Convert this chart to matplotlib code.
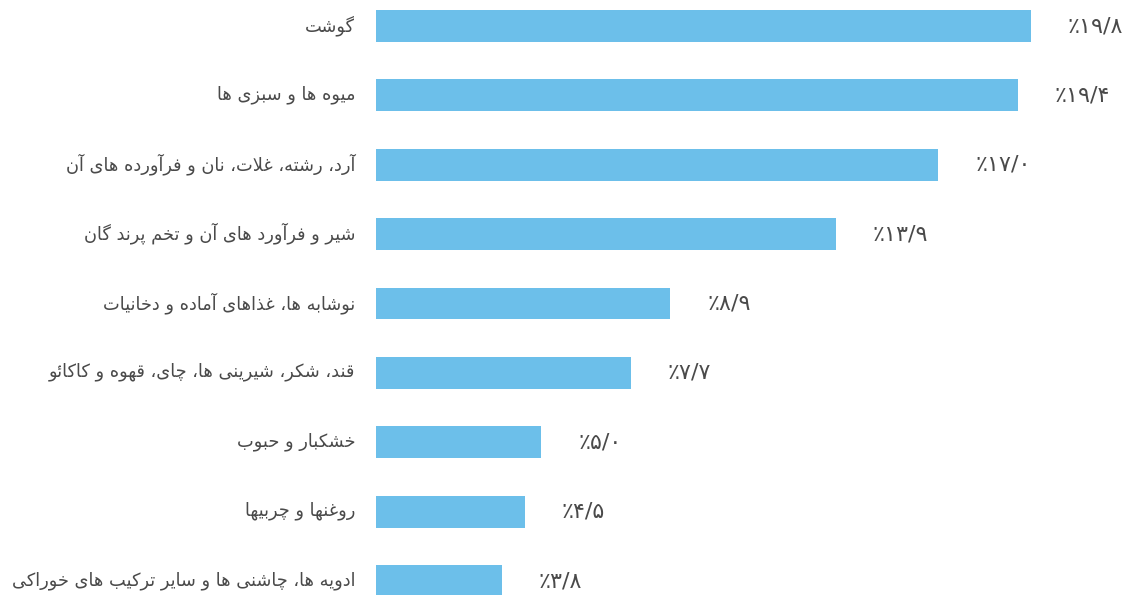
import numpy as np
import matplotlib
matplotlib.use('Agg')
from matplotlib import pyplot as plt
from matplotlib.transforms import ScaledTranslation

categories = [
    'گوشت',
    'میوه ها و سبزی ها',
    'آرد، رشته، غلات، نان و فرآورده های آن',
    'شیر و فرآورد های آن و تخم پرند گان',
    'نوشابه ها، غذاهای آماده و دخانیات',
    'قند، شکر، شیرینی ها، چای، قهوه و کاکائو',
    'خشکبار و حبوب',
    'روغنها و چربیها',
    'ادویه ها، چاشنی ها و سایر ترکیب های خوراکی',
]
values = [19.8, 19.4, 17.0, 13.9, 8.9, 7.7, 5.0, 4.5, 3.8]

# arabic presentation forms: iso, fin, ini, med (None -> right joining only)
forms = {
    'آ': (0xFE81, 0xFE82, None, None),
    'ا': (0xFE8D, 0xFE8E, None, None),
    'ئ': (0xFE89, 0xFE8A, 0xFE8B, 0xFE8C),
    'ب': (0xFE8F, 0xFE90, 0xFE91, 0xFE92),
    'پ': (0xFB56, 0xFB57, 0xFB58, 0xFB59),
    'ت': (0xFE95, 0xFE96, 0xFE97, 0xFE98),
    'ث': (0xFE99, 0xFE9A, 0xFE9B, 0xFE9C),
    'ج': (0xFE9D, 0xFE9E, 0xFE9F, 0xFEA0),
    'چ': (0xFB7A, 0xFB7B, 0xFB7C, 0xFB7D),
    'ح': (0xFEA1, 0xFEA2, 0xFEA3, 0xFEA4),
    'خ': (0xFEA5, 0xFEA6, 0xFEA7, 0xFEA8),
    'د': (0xFEA9, 0xFEAA, None, None),
    'ذ': (0xFEAB, 0xFEAC, None, None),
    'ر': (0xFEAD, 0xFEAE, None, None),
    'ز': (0xFEAF, 0xFEB0, None, None),
    'ژ': (0xFB8A, 0xFB8B, None, None),
    'س': (0xFEB1, 0xFEB2, 0xFEB3, 0xFEB4),
    'ش': (0xFEB5, 0xFEB6, 0xFEB7, 0xFEB8),
    'ص': (0xFEB9, 0xFEBA, 0xFEBB, 0xFEBC),
    'ض': (0xFEBD, 0xFEBE, 0xFEBF, 0xFEC0),
    'ط': (0xFEC1, 0xFEC2, 0xFEC3, 0xFEC4),
    'ظ': (0xFEC5, 0xFEC6, 0xFEC7, 0xFEC8),
    'ع': (0xFEC9, 0xFECA, 0xFECB, 0xFECC),
    'غ': (0xFECD, 0xFECE, 0xFECF, 0xFED0),
    'ف': (0xFED1, 0xFED2, 0xFED3, 0xFED4),
    'ق': (0xFED5, 0xFED6, 0xFED7, 0xFED8),
    'ک': (0xFB8E, 0xFB8F, 0xFB90, 0xFB91),
    'گ': (0xFB92, 0xFB93, 0xFB94, 0xFB95),
    'ل': (0xFEDD, 0xFEDE, 0xFEDF, 0xFEE0),
    'م': (0xFEE1, 0xFEE2, 0xFEE3, 0xFEE4),
    'ن': (0xFEE5, 0xFEE6, 0xFEE7, 0xFEE8),
    'و': (0xFEED, 0xFEEE, None, None),
    'ه': (0xFEE9, 0xFEEA, 0xFEEB, 0xFEEC),
    'ی': (0xFBFC, 0xFBFD, 0xFBFE, 0xFBFF),
}
lam_alef = {'ا': (0xFEFB, 0xFEFC), 'آ': (0xFEF5, 0xFEF6)}


def dual(c):
    return c in forms and forms[c][2] is not None


def shape(text):
    out = []
    i = 0
    n = len(text)
    while i < n:
        c = text[i]
        prev = text[i - 1] if i > 0 else ''
        pj = dual(prev)
        if c == 'ل' and i + 1 < n and text[i + 1] in lam_alef:
            lig = lam_alef[text[i + 1]]
            out.append(chr(lig[1] if pj else lig[0]))
            i += 2
            continue
        if c not in forms:
            out.append(c)
            i += 1
            continue
        iso, fin, ini, med = forms[c]
        nxt = text[i + 1] if i + 1 < n else ''
        nj = ini is not None and nxt in forms
        if pj and nj:
            out.append(chr(med))
        elif pj:
            out.append(chr(fin))
        elif nj:
            out.append(chr(ini))
        else:
            out.append(chr(iso))
        i += 1
    return ''.join(reversed(out))


def fa_pct(v):
    s = '{:.1f}'.format(v).replace('.', '/')
    s = ''.join(chr(0x06F0 + int(ch)) if ch.isdigit() else ch for ch in s)
    return '٪' + s


text_color = '#4a4a4a'
bar_color = '#6cbfea'

fig = plt.figure(figsize=(11.26, 5.95), dpi=100)
ax = fig.add_axes([376 / 1126, 0, 750 / 1126, 1])
y = np.arange(len(values))
ax.barh(y, values, height=0.46, color=bar_color)
ax.set_xlim(0, 750 / 33.08)
ax.set_ylim(8.2018, -0.375)

ax.set_yticks(y)
ax.set_yticklabels([shape(c) for c in categories], fontsize=12.8,
                   color=text_color, family='DejaVu Sans')
ax.tick_params(axis='y', length=0, pad=15)
# nudge labels up a little, persian glyphs sit low
shift = ScaledTranslation(0, 3 / 100, fig.dpi_scale_trans)
for lab in ax.get_yticklabels():
    lab.set_transform(lab.get_transform() + shift)
ax.set_xticks([])
for s in ax.spines.values():
    s.set_visible(False)

for yi, v in zip(y, values):
    ax.annotate(fa_pct(v), (v, yi), xytext=(37, 0), textcoords='offset pixels',
                ha='left', va='center', fontsize=16, color=text_color,
                family='DejaVu Sans')

plt.savefig('out.png', dpi=100)
